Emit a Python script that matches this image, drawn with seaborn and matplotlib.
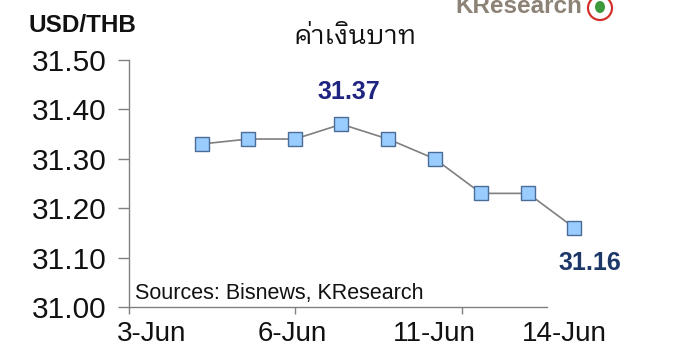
import matplotlib
matplotlib.use("Agg")
import matplotlib.pyplot as plt
from matplotlib import font_manager
from matplotlib.ft2font import FT2Font
from matplotlib.patches import Ellipse
import seaborn as sns
import pandas as pd

# ---- data ----
dates = ["3-Jun", "4-Jun", "5-Jun", "6-Jun", "7-Jun", "10-Jun", "11-Jun", "12-Jun", "14-Jun"]
rates = [31.33, 31.34, 31.34, 31.37, 31.34, 31.30, 31.23, 31.23, 31.16]
x_labels = ["3-Jun", "6-Jun", "11-Jun", "14-Jun"]
y_ticks = [31.00, 31.10, 31.20, 31.30, 31.40, 31.50]
title_text = "ค่าเงินบาท"
unit_text = "USD/THB"
source_text = "Sources: Bisnews, KResearch"

sns.set_theme(style="white")
plt.rcParams["font.family"] = ["Liberation Sans", "DejaVu Sans"]

# find a font with Thai glyphs
thai_fonts = set()
for f in font_manager.fontManager.ttflist:
    try:
        if 0x0E04 in FT2Font(f.fname).get_charmap():
            thai_fonts.add(f.name)
    except Exception:
        pass
pref = ["IBM Plex Sans Thai Looped", "Sarabun", "Noto Sans Thai Looped", "Noto Sans Thai",
        "Loma", "Garuda", "Chonburi"]
thai_font = next((p for p in pref if p in thai_fonts), sorted(thai_fonts)[0] if thai_fonts else "DejaVu Sans")

df = pd.DataFrame({"pos": range(len(dates)), "rate": rates})

fig = plt.figure(figsize=(6.85, 3.6), dpi=100)
ax = fig.add_axes([129 / 685, 1 - 307 / 360, (547 - 129) / 685, (307 - 60) / 360])

sns.lineplot(data=df, x="pos", y="rate", ax=ax, color="#7f7f7f", linewidth=1.2,
             marker="s", markersize=9.5, markerfacecolor="#99CCFF",
             markeredgecolor="#4A6C96", markeredgewidth=1.0, clip_on=False)

ax.set_xlim(-1.56, 7.41)
ax.set_ylim(31.0, 31.5)
ax.set_yticks(y_ticks)
ax.set_yticklabels([f"{v:.2f}" for v in y_ticks], fontsize=21.5, color="#111111")
ax.set_xticks([-1.56, 2.01, 5.58])
ax.set_xticklabels([])
ax.set_xlabel("")
ax.set_ylabel("")
for s in ["top", "right"]:
    ax.spines[s].set_visible(False)
for s in ["left", "bottom"]:
    ax.spines[s].set_color("#808080")
    ax.spines[s].set_linewidth(1.0)
ax.tick_params(axis="y", direction="out", length=8, width=1, color="#808080", pad=8, left=True)
ax.tick_params(axis="x", direction="out", length=5, width=1, color="#808080", bottom=True)

# x labels placed under the axis
label_px = [152, 292, 434, 564]
for lbl, px in zip(x_labels, label_px):
    fig.text(px / 685, 1 - 334 / 360, lbl, ha="center", va="center", fontsize=20, color="#111111")

# annotations
imax = rates.index(max(rates))
ax.annotate(f"{rates[imax]:.2f}", (imax, rates[imax]), xytext=(5, 23), textcoords="offset points",
            ha="center", va="center", fontsize=18, fontweight="bold", color="#1F2480")
ax.annotate(f"{rates[-1]:.2f}", (len(rates) - 1, rates[-1]), xytext=(11, -25), textcoords="offset points",
            ha="center", va="center", fontsize=18, fontweight="bold", color="#1D3868",
            annotation_clip=False)

ax.text(0.015, 0.012, source_text, transform=ax.transAxes, ha="left", va="bottom",
        fontsize=15.5, color="#111111")

fig.text(29 / 685, 1 - 26 / 360, unit_text, ha="left", va="center", fontsize=17.5,
         fontweight="bold", color="#111111")
fig.text(355 / 685, 1 - 37 / 360, title_text, ha="center", va="center", fontsize=19,
         color="#111111", family=[thai_font, "DejaVu Sans"])

# logo
fig.text(455 / 685, 1 - 13 / 360, "KResearch", ha="left", va="baseline", fontsize=17.5,
         fontweight="bold", color="#8C8275")
fig.add_artist(Ellipse((600 / 685, 1 - 8 / 360), 24 / 685, 24 / 360, transform=fig.transFigure,
                       facecolor="white", edgecolor="#D0302A", linewidth=1.6))
fig.add_artist(Ellipse((600 / 685, 1 - 7 / 360), 10 / 685, 12 / 360, transform=fig.transFigure,
                       facecolor="#3C9A3C", edgecolor="none"))

fig.savefig("out.png", dpi=100)
